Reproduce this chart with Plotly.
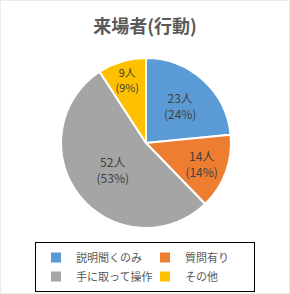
import plotly.graph_objects as go

categories = ["説明聞くのみ", "質問有り", "手に取って操作", "その他"]
counts = [23, 14, 52, 9]
pct_labels = ["24%", "14%", "53%", "9%"]
colors = ["#5B9BD5", "#ED7D31", "#A5A5A5", "#FFC000"]

W, H = 290, 294
font = "Noto Sans CJK JP"

fig = go.Figure(go.Pie(
    labels=categories,
    values=counts,
    customdata=pct_labels,
    sort=False,
    direction="clockwise",
    rotation=0,
    marker=dict(colors=colors, line=dict(color="white", width=2)),
    texttemplate="%{value}人<br>(%{customdata})",
    textposition="inside",
    insidetextorientation="horizontal",
    textfont=dict(family=font, size=12, color="#404040"),
    domain=dict(x=[61 / W, 231 / W], y=[(H - 228) / H, (H - 58) / H]),
    hoverinfo="label+value",
))

fig.update_layout(
    width=W, height=H,
    margin=dict(l=0, r=0, t=0, b=0),
    paper_bgcolor="white",
    plot_bgcolor="white",
    title=dict(text="<b>来場者(行動)</b>", x=0.5, xanchor="center", y=1 - 27 / H, yanchor="middle",
               font=dict(family=font, size=18, color="#595959")),
    font=dict(family=font, color="#595959"),
    legend=dict(
        orientation="h",
        x=0.5, xanchor="center",
        y=(H - 242) / H, yanchor="top",
        bordercolor="black", borderwidth=1,
        font=dict(family=font, size=11, color="#595959"),
        entrywidth=64, entrywidthmode="pixels",
        itemwidth=30,
        tracegroupgap=0,
    ),
    shapes=[dict(type="rect", xref="paper", yref="paper", x0=0, y0=0, x1=1, y1=1,
                 line=dict(color="#D9D9D9", width=1))],
)

fig.write_html("out.html")
